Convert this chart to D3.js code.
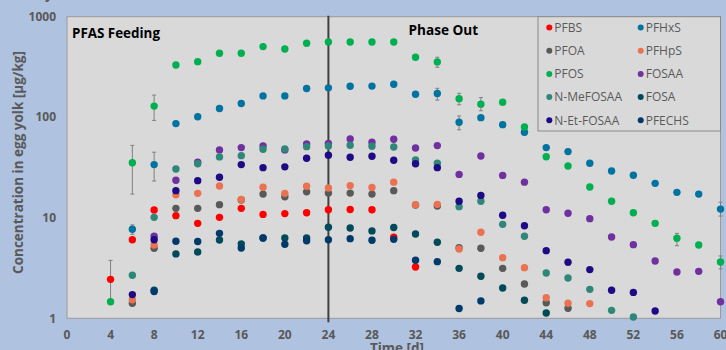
<!DOCTYPE html>
<html><head><meta charset="utf-8">
<script src="https://cdn.jsdelivr.net/npm/d3@7"></script>
<style>body{margin:0;background:#afc2df}svg{display:block}</style>
</head><body><svg id="c" width="726" height="350"></svg>
<script>
const days = [4,6,8,10,12,14,16,18,20,22,24,26,28,30,32,34,36,38,40,42,44,46,48,50,52,54,56,58,60];
const seriesNames = ["PFBS","PFHxS","PFOA","PFHpS","PFOS","FOSAA","N-MeFOSAA","FOSA","N-Et-FOSAA","PFECHS"];
const seriesColors = ["#ff0000","#0073a0","#595959","#ea7250","#00b050","#7030a0","#2f877a","#004a5a","#1f0a85","#003a6b"];
const _ = null;
const PFBS      = [2.44,6.05,11.96,10.5,8.8,10.1,12.4,10.8,11,11.2,12,12.1,12,6.4,3.24,_,_,_,_,_,_,_,_,_,_,_,_,_,_];
const PFHxS     = [_,7.69,33.8,86.4,101,122,137,163,163,193,196,203,204,213,169,172,89,99,84.4,70.8,49.9,45.5,34.8,29.2,26.5,22,17.9,17.2,12.2];
const PFOA      = [_,1.41,4.97,12.4,12.4,13.5,15.0,17.2,16.2,18.1,17.6,17.6,17.2,18.6,13.4,13.1,5.04,4.97,3.14,2.19,1.43,1.26,_,_,_,_,_,_,_];
const PFHpS     = [_,1.53,5.36,16.9,17.5,20.7,15.2,20.1,17.5,20.6,19.8,20.9,20.0,22.6,13.5,13.6,4.89,7.17,4.01,3.19,1.6,1.41,1.4,_,_,_,_,_,_];
const PFOS      = [1.46,35.3,129,331,357,433,433,504,478,545,561,561,561,561,395,355,153,135,141,80,40.5,32.7,20.2,14.6,11.2,8.8,6.25,5.36,3.63];
const FOSAA     = [_,_,6.55,23.6,35.7,47.3,49.9,51.8,47.3,54.2,55,60.8,56.4,60.4,49.5,52.2,27,41.2,26.4,22.6,12,11.1,9.8,6.44,5.4,3.72,2.89,2.93,1.46];
const NMeFOSAA  = [_,2.68,10.1,30.6,34.5,40.3,41.5,48,48.4,51,51.8,52.6,51.4,50.5,37.6,34.8,12.9,14.6,8.6,6.55,2.82,2.52,1.94,1.2,1.03,_,_,_,_];
const FOSA      = [_,_,1.9,4.37,4.57,6.0,5.5,6.3,6.3,6.3,8.04,7.9,7.4,8.0,6.9,5.7,3.14,2.62,2.0,1.51,1.13,_,_,_,_,_,_,_,_];
const NEtFOSAA  = [_,1.72,6.05,18.6,23.4,25.3,33.8,31.5,32.1,39.1,41.9,40,40.9,37.3,34.5,31.5,14.6,16.7,10.6,8.34,4.71,3.61,3.05,1.9,1.81,1.18,_,_,_];
const PFECHS    = [_,_,1.85,5.84,5.8,7.0,5.0,6.3,5.45,5.9,6.05,6.2,5.97,6.1,3.78,3.66,1.25,1.49,_,_,_,_,_,_,_,_,_,_,_];
const seriesValues = [PFBS,PFHxS,PFOA,PFHpS,PFOS,FOSAA,NMeFOSAA,FOSA,NEtFOSAA,PFECHS];

// error bars
const errSeries = ["PFBS","PFOS","PFOS","PFHxS","PFHxS","PFOS","PFHxS","PFOS","PFHxS","PFOS","PFOS","PFHxS","PFOS"];
const errDay    = [4,6,8,6,8,34,34,36,36,38,56,60,60];
const errLow    = [1.46,17.2,93,6.85,23.2,314,148,133,75,116,5.27,10.4,3.1];
const errHigh   = [3.77,52.5,166,8.5,44.9,395,194,173,103,157,7.0,14.3,4.17];

const xTicks = d3.range(0,61,4);
const yTicks = [1,10,100,1000];
const phaseLabels = ["PFAS Feeding","Phase Out"];
const phaseChangeDay = 24;

const svg = d3.select("#c");
const L=67, R=720.5, T=16.7, B=318.3;
const x = d3.scaleLinear().domain([0,60]).range([L,R]);
const y = d3.scaleLog().domain([1,1000]).range([B,T]);
const font = "'Open Sans', 'DejaVu Sans', sans-serif";

svg.append("rect").attr("x",0).attr("y",0).attr("width",726).attr("height",350).attr("fill","#afc2df");
svg.append("rect").attr("x",L).attr("y",T).attr("width",R-L).attr("height",B-T)
  .attr("fill","#d9d9d9").attr("stroke","#9a9a9a").attr("stroke-width",1);

// stray title fragment at top
svg.append("text").attr("x",45).attr("y",-1).attr("font-family",font).attr("font-weight",700)
  .attr("font-size",13.5).attr("fill","#595959").text("y");

// y ticks
svg.append("g").selectAll("text").data(yTicks).join("text")
  .attr("x",56).attr("y",d=>y(d)).attr("dy","0.35em").attr("text-anchor","end")
  .attr("font-family",font).attr("font-weight",700).attr("font-size",12).attr("fill","#595959")
  .text(d=>d3.format("d")(d));
// x ticks
svg.append("g").selectAll("text").data(xTicks).join("text")
  .attr("x",d=>x(d)).attr("y",338.5).attr("text-anchor","middle")
  .attr("font-family",font).attr("font-weight",700).attr("font-size",12).attr("fill","#595959")
  .text(d=>d);

// axis titles
svg.append("text").attr("transform","translate(22.5,"+((T+B)/2-5)+") rotate(-90)")
  .attr("text-anchor","middle").attr("font-family",font).attr("font-weight",700)
  .attr("font-size",13.5).attr("fill","#595959").text("Concentration in egg yolk [µg/kg]");
svg.append("text").attr("x",397).attr("y",353).attr("text-anchor","middle")
  .attr("font-family",font).attr("font-weight",700).attr("font-size",13.5).attr("fill","#595959").text("Time [d]");

// phase labels
svg.append("text").attr("x",72).attr("y",37.5).attr("font-family",font).attr("font-weight",700)
  .attr("font-size",13.4).attr("fill","#000").text(phaseLabels[0]);
svg.append("text").attr("x",408.5).attr("y",35).attr("font-family",font).attr("font-weight",700)
  .attr("font-size",13.6).attr("fill","#000").text(phaseLabels[1]);

// vertical line
svg.append("line").attr("x1",x(phaseChangeDay)).attr("x2",x(phaseChangeDay)).attr("y1",T-1).attr("y2",B+4)
  .attr("stroke","#404040").attr("stroke-width",2);

// error bars
const eb = svg.append("g").attr("stroke","#808080").attr("stroke-width",1);
errDay.forEach((d,i)=>{
  const cx = x(d);
  eb.append("line").attr("x1",cx).attr("x2",cx).attr("y1",y(errLow[i])).attr("y2",y(errHigh[i]));
  eb.append("line").attr("x1",cx-2).attr("x2",cx+2).attr("y1",y(errLow[i])).attr("y2",y(errLow[i]));
  eb.append("line").attr("x1",cx-2).attr("x2",cx+2).attr("y1",y(errHigh[i])).attr("y2",y(errHigh[i]));
});

// points
seriesNames.forEach((name,si)=>{
  const pts = days.map((d,i)=>({d,v:seriesValues[si][i]})).filter(p=>p.v!=null);
  svg.append("g").selectAll("circle").data(pts).join("circle")
    .attr("cx",p=>x(p.d)).attr("cy",p=>y(p.v)).attr("r",3.7).attr("fill",seriesColors[si]);
});

// legend
const lg = svg.append("g");
lg.append("rect").attr("x",538).attr("y",T).attr("width",R-538).attr("height",131-T)
  .attr("fill","#d9d9d9").attr("stroke","#8a8a8a").attr("stroke-width",1);
seriesNames.forEach((name,si)=>{
  const col = si%2, row = Math.floor(si/2);
  const lx = col===0 ? 549.3 : 640.7, ly = 27.5 + row*23.2;
  lg.append("circle").attr("cx",lx).attr("cy",ly).attr("r",3).attr("fill",seriesColors[si]);
  lg.append("text").attr("x",lx+5).attr("y",ly).attr("dy","0.36em").attr("font-family",font)
    .attr("font-size",12).attr("fill","#595959").text(name);
});
</script></body></html>
